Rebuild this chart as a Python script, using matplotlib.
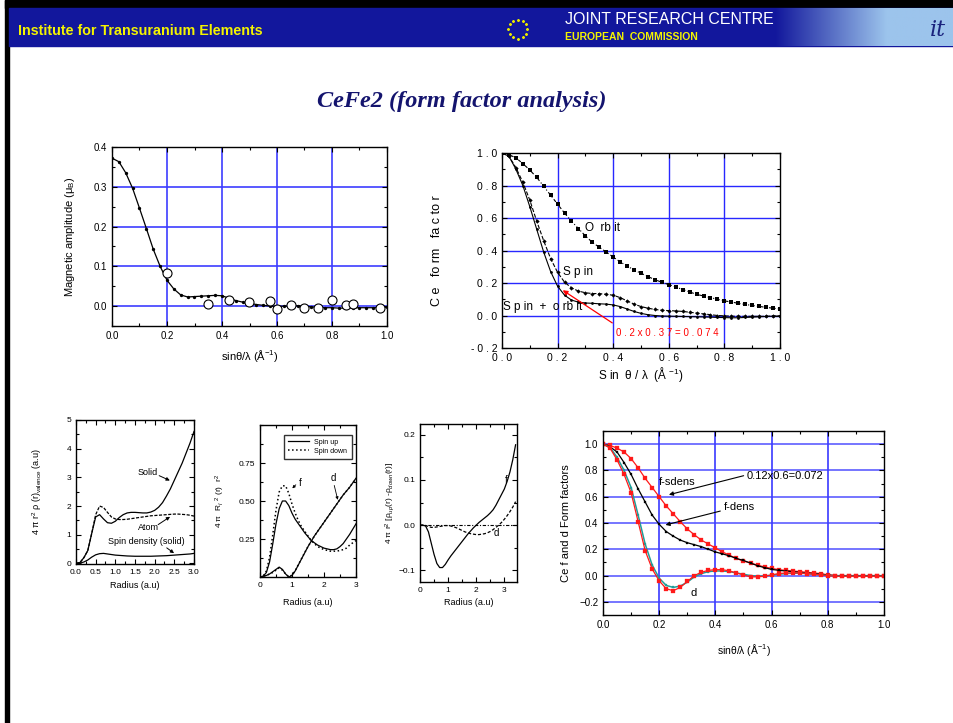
import numpy as np
import matplotlib.pyplot as plt
from matplotlib.patches import Rectangle
from matplotlib.ticker import MultipleLocator, FixedLocator

plt.rcParams['font.family'] = ['Liberation Sans', 'DejaVu Sans']
plt.rcParams['mathtext.fontset'] = 'custom'
plt.rcParams['mathtext.rm'] = 'Liberation Sans'
plt.rcParams['mathtext.it'] = 'Liberation Sans:italic'

# ---- data ----
q = [0.0, 0.025, 0.05, 0.075, 0.1, 0.125, 0.15, 0.175, 0.2, 0.225, 0.25, 0.275, 0.3, 0.325,
     0.35, 0.375, 0.4, 0.425, 0.45, 0.475, 0.5, 0.525, 0.55, 0.575, 0.6, 0.625, 0.65, 0.675,
     0.7, 0.725, 0.75, 0.775, 0.8, 0.825, 0.85, 0.875, 0.9, 0.925, 0.95, 0.975, 1.0]

# panel 1: magnetic amplitude
amp_calc = [0.372, 0.363, 0.335, 0.296, 0.246, 0.195, 0.143, 0.100, 0.065, 0.043, 0.028, 0.023,
            0.024, 0.025, 0.026, 0.027, 0.026, 0.020, 0.014, 0.010, 0.007, 0.004, 0.002, 0.000,
            -0.001, 0.000, 0.000, 0.001, 0.000, -0.002, -0.003, -0.004, -0.004, -0.005, -0.005,
            -0.004, -0.004, -0.004, -0.004, -0.003, -0.003]
q_meas = [0.2, 0.35, 0.425, 0.5, 0.575, 0.6, 0.65, 0.7, 0.75, 0.8, 0.85, 0.875, 0.975]
amp_meas = [0.084, 0.006, 0.016, 0.011, 0.013, -0.007, 0.004, -0.005, -0.006, 0.015, 0.003, 0.006, -0.006]

# panel 2: Ce form factor
orbit = [1.0, 0.99, 0.97, 0.935, 0.895, 0.85, 0.795, 0.74, 0.685, 0.63, 0.58, 0.535, 0.49, 0.45,
         0.42, 0.39, 0.36, 0.33, 0.305, 0.28, 0.26, 0.24, 0.22, 0.205, 0.19, 0.175, 0.16, 0.145,
         0.13, 0.12, 0.11, 0.10, 0.09, 0.083, 0.075, 0.068, 0.062, 0.056, 0.05, 0.045, 0.04]
spin = [1.0, 0.98, 0.91, 0.82, 0.71, 0.58, 0.46, 0.35, 0.265, 0.205, 0.17, 0.15, 0.14, 0.135,
        0.135, 0.13, 0.125, 0.11, 0.09, 0.07, 0.055, 0.045, 0.037, 0.032, 0.03, 0.028, 0.025,
        0.02, 0.015, 0.01, 0.005, 0.0, -0.002, -0.004, -0.005, -0.005, -0.005, -0.005, -0.005,
        -0.004, -0.003]
spin_orbit = [1.0, 0.98, 0.90, 0.80, 0.67, 0.53, 0.39, 0.27, 0.18, 0.125, 0.095, 0.082, 0.077,
              0.075, 0.072, 0.07, 0.065, 0.055, 0.04, 0.025, 0.013, 0.005, 0.0, -0.003, -0.004,
              -0.005, -0.006, -0.007, -0.008, -0.009, -0.01, -0.012, -0.013, -0.014, -0.014,
              -0.012, -0.01, -0.008, -0.006, -0.004, -0.003]

# panel 3: valence density
r3 = [0.0, 0.1, 0.2, 0.3, 0.4, 0.5, 0.6, 0.7, 0.8, 0.9, 1.0, 1.1, 1.2, 1.3, 1.4, 1.5, 1.6, 1.7,
      1.8, 1.9, 2.0, 2.1, 2.2, 2.3, 2.4, 2.5, 2.6, 2.7, 2.8, 2.9, 3.0]
dens_solid = [0.0, 0.03, 0.2, 0.45, 1.05, 1.62, 1.70, 1.55, 1.42, 1.40, 1.47, 1.6, 1.7, 1.76, 1.78,
              1.78, 1.77, 1.76, 1.76, 1.79, 1.85, 1.96, 2.12, 2.35, 2.6, 2.9, 3.2, 3.5, 3.85, 4.2, 4.6]
dens_atom = [0.0, 0.03, 0.2, 0.45, 1.05, 1.7, 2.0, 1.95, 1.78, 1.62, 1.55, 1.53, 1.53, 1.54, 1.56,
             1.58, 1.6, 1.62, 1.64, 1.66, 1.67, 1.68, 1.69, 1.7, 1.71, 1.72, 1.72, 1.71, 1.7, 1.68, 1.65]
dens_spin = [0.0, 0.01, 0.05, 0.12, 0.22, 0.3, 0.34, 0.35, 0.33, 0.31, 0.29, 0.28, 0.27, 0.26, 0.255,
             0.25, 0.25, 0.25, 0.25, 0.25, 0.255, 0.26, 0.265, 0.27, 0.28, 0.29, 0.3, 0.31, 0.32, 0.33, 0.35]

# panel 4: radial functions
f_up = [0, 0.005, 0.03, 0.1, 0.22, 0.35, 0.45, 0.5, 0.5, 0.47, 0.42, 0.38, 0.35, 0.32, 0.29, 0.265,
        0.24, 0.225, 0.21, 0.2, 0.19, 0.185, 0.18, 0.18, 0.185, 0.2, 0.22, 0.25, 0.28, 0.315, 0.35]
f_down = [0, 0.005, 0.04, 0.13, 0.28, 0.44, 0.56, 0.6, 0.6, 0.55, 0.48, 0.42, 0.37, 0.33, 0.3, 0.27,
          0.24, 0.22, 0.2, 0.19, 0.18, 0.175, 0.17, 0.17, 0.17, 0.175, 0.18, 0.19, 0.21, 0.225, 0.24]
d_up = [0, 0.005, 0.01, 0.02, 0.035, 0.05, 0.065, 0.05, 0.02, 0.0, 0.01, 0.04, 0.08, 0.12, 0.16, 0.2,
        0.235, 0.27, 0.3, 0.33, 0.36, 0.39, 0.42, 0.45, 0.48, 0.51, 0.54, 0.565, 0.59, 0.62, 0.65]
d_down = [0, 0.005, 0.01, 0.02, 0.03, 0.045, 0.06, 0.045, 0.02, 0.002, 0.012, 0.042, 0.082, 0.122,
          0.162, 0.2, 0.235, 0.27, 0.3, 0.33, 0.36, 0.39, 0.42, 0.45, 0.48, 0.51, 0.54, 0.565, 0.59,
          0.62, 0.645]

# panel 5: spin density difference
r5 = [0.0, 0.1, 0.2, 0.3, 0.4, 0.5, 0.6, 0.7, 0.8, 0.9, 1.0, 1.1, 1.2, 1.3, 1.4, 1.5, 1.6, 1.7,
      1.8, 1.9, 2.0, 2.1, 2.2, 2.3, 2.4, 2.5, 2.6, 2.7, 2.8, 2.9, 3.0, 3.1, 3.2, 3.3, 3.4]
f_diff = [0.0, 0.0, -0.002, -0.015, -0.04, -0.065, -0.085, -0.094, -0.094, -0.087, -0.077, -0.068,
          -0.06, -0.052, -0.044, -0.036, -0.028, -0.02, -0.013, -0.006, 0.0, 0.006, 0.011, 0.016,
          0.021, 0.027, 0.034, 0.044, 0.056, 0.068, 0.08, 0.097, 0.118, 0.145, 0.178]
d_diff = [0.0, 0.0, -0.001, -0.003, -0.005, -0.005, -0.004, -0.003, -0.002, -0.001, -0.001, -0.002,
          -0.004, -0.006, -0.009, -0.012, -0.015, -0.017, -0.019, -0.02, -0.021, -0.021, -0.02,
          -0.019, -0.017, -0.014, -0.01, -0.005, 0.0, 0.006, 0.013, 0.021, 0.03, 0.04, 0.052]

# panel 6: Ce f and d form factors
f_sdens = [1.0, 0.99, 0.97, 0.94, 0.89, 0.82, 0.74, 0.67, 0.60, 0.53, 0.47, 0.41, 0.355, 0.31, 0.27,
           0.24, 0.21, 0.18, 0.155, 0.13, 0.11, 0.095, 0.08, 0.065, 0.055, 0.045, 0.04, 0.035, 0.03,
           0.025, 0.02, 0.015, 0.005, 0.0, -0.005, -0.005, -0.005, -0.005, -0.005, -0.005, -0.005]
f_dens = [1.0, 0.98, 0.94, 0.86, 0.77, 0.66, 0.56, 0.46, 0.39, 0.335, 0.30, 0.27, 0.25, 0.235, 0.22,
          0.20, 0.18, 0.165, 0.15, 0.13, 0.115, 0.095, 0.075, 0.06, 0.047, 0.04, 0.035, 0.03, 0.025,
          0.02, 0.015, 0.01, 0.005, 0.0, 0.0, 0.0, 0.0, 0.0, 0.0, 0.0, 0.0]
d_red = [1.0, 0.97, 0.88, 0.77, 0.63, 0.41, 0.19, 0.05, -0.04, -0.10, -0.115, -0.09, -0.045, 0.0,
         0.025, 0.04, 0.045, 0.045, 0.035, 0.02, 0.005, -0.01, -0.01, -0.005, 0.005, 0.015, 0.02,
         0.02, 0.02, 0.015, 0.01, 0.005, 0.0, -0.005, -0.005, -0.005, -0.005, -0.005, -0.005,
         -0.005, -0.005]
d_teal = [1.0, 0.975, 0.90, 0.80, 0.67, 0.46, 0.24, 0.08, -0.02, -0.075, -0.09, -0.08, -0.05, -0.01,
          0.015, 0.03, 0.035, 0.035, 0.03, 0.02, 0.01, 0.0, -0.005, -0.003, 0.003, 0.01, 0.015,
          0.018, 0.018, 0.015, 0.01, 0.005, 0.0, -0.003, -0.004, -0.004, -0.004, -0.004, -0.004,
          -0.004, -0.004]

W, H = 954, 723
fig = plt.figure(figsize=(W / 100, H / 100), dpi=100)

# ---- slide frame / header (pixel coords) ----
bg = fig.add_axes([0, 0, 1, 1], zorder=-5)
bg.set_xlim(0, W)
bg.set_ylim(H, 0)
bg.axis('off')
bg.add_patch(Rectangle((5, 0), W - 5, 8, color='black'))
bg.add_patch(Rectangle((5, 0), 4, H, color='black'))
bg.add_patch(Rectangle((9, 8), W - 9, 38, color='#12179c'))
sky = np.linspace(0, 1, 200)
grad = np.zeros((2, 200, 3))
c0 = np.array([0x12, 0x17, 0x9c]) / 255
c1 = np.array([0x9c, 0xc4, 0xec]) / 255
for k in range(3):
    grad[:, :, k] = c0[k] + (c1[k] - c0[k]) * np.clip(sky * 1.6, 0, 1)
bg.imshow(grad, extent=(775, W, 46, 8), aspect='auto', zorder=1)
bg.text(18, 31, 'Institute for Transuranium Elements', color='#f4f400', fontsize=10.3,
        fontweight='bold', va='center', ha='left')
ang = np.linspace(0, 2 * np.pi, 13)[:-1]
bg.scatter(518 + 9.5 * np.cos(ang), 29 + 9.5 * np.sin(ang), s=1.5, color='#e8e800', marker='*', zorder=3)
bg.text(565, 19, 'JOINT RESEARCH CENTRE', color='white', fontsize=11.5, va='center', ha='left', zorder=3)
bg.text(565, 37, 'EUROPEAN  COMMISSION', color='#f4f400', fontsize=7.5, fontweight='bold',
        va='center', ha='left', zorder=3)
bg.text(938, 30, 'it', color='#1a237e', fontsize=16, family='DejaVu Serif', style='italic',
        va='center', ha='center', zorder=3)
bg.text(462, 101, 'CeFe2 (form factor analysis)', color='#14146e', fontsize=17.5,
        family='Liberation Serif', style='italic', fontweight='bold', ha='center', va='center')


def px_axes(left, top, right, bottom):
    return fig.add_axes([left / W, 1 - bottom / H, (right - left) / W, (bottom - top) / H])


def style(ax, fs=7):
    ax.tick_params(which='both', direction='in', top=True, right=True, labelsize=fs, width=0.8)
    ax.tick_params(which='major', length=3.5)
    ax.tick_params(which='minor', length=2)
    for s in ax.spines.values():
        s.set_linewidth(1.0)


# ---- panel 1 ----
ax1 = px_axes(112, 147, 387, 326)
for g in [0.2, 0.4, 0.6, 0.8]:
    ax1.axvline(g, color='#3c3cff', lw=1.4, alpha=0.85, zorder=0)
for g in [0.0, 0.1, 0.2, 0.3]:
    ax1.axhline(g, color='#3c3cff', lw=1.4, alpha=0.85, zorder=0)
ax1.plot(q, amp_calc, '-', color='black', lw=0.9, marker='o', ms=2.4, mew=0)
ax1.plot(q_meas, amp_meas, 'o', mfc='white', mec='black', ms=6.5, mew=0.8)
ax1.set_xlim(0, 1.0)
ax1.set_ylim(-0.05, 0.4)
ax1.xaxis.set_major_locator(MultipleLocator(0.2))
ax1.xaxis.set_minor_locator(MultipleLocator(0.1))
ax1.yaxis.set_major_locator(FixedLocator([0.0, 0.1, 0.2, 0.3, 0.4]))
ax1.yaxis.set_minor_locator(MultipleLocator(0.05))
style(ax1)
ax1.set_xlabel('sinθ/λ (Å$^{-1}$)', fontsize=8)
ax1.set_ylabel('Magnetic amplitude (μ$_{\\rm B}$)', fontsize=8)
ax1.xaxis.set_label_coords(0.5, -0.123)
ax1.yaxis.set_label_coords(-0.127, 0.5)

# ---- panel 2 ----
ax2 = px_axes(502, 153, 780, 348)
for g in [0.2, 0.4, 0.6, 0.8]:
    ax2.axvline(g, color='#2828ff', lw=1.0, zorder=0)
for g in [0.0, 0.2, 0.4, 0.6, 0.8]:
    ax2.axhline(g, color='#2828ff', lw=1.0, zorder=0)
ax2.plot(q, orbit, linestyle=(0, (3, 2, 1, 2)), color='black', lw=0.8, marker='s', ms=2.8, mew=0)
ax2.plot(q, spin, linestyle='--', color='black', lw=0.8, marker='D', ms=2.2, mew=0)
ax2.plot(q, spin_orbit, '-', color='black', lw=0.8, marker='o', ms=2.0, mew=0)
ax2.set_xlim(0, 1.0)
ax2.set_ylim(-0.2, 1.0)
ax2.xaxis.set_major_locator(FixedLocator([0.0, 0.2, 0.4, 0.6, 0.8, 1.0]))
ax2.xaxis.set_minor_locator(MultipleLocator(0.1))
ax2.yaxis.set_major_locator(FixedLocator([-0.2, 0.0, 0.2, 0.4, 0.6, 0.8, 1.0]))
ax2.yaxis.set_minor_locator(MultipleLocator(0.1))
ax2.set_xticklabels(['0 . 0', '0 . 2', '0 . 4', '0 . 6', '0 . 8', '1 . 0'])
ax2.set_yticklabels(['- 0 . 2', '0 . 0', '0 . 2', '0 . 4', '0 . 6', '0 . 8', '1 . 0'])
style(ax2, fs=7.5)
ax2.set_xlabel('S in  θ / λ  (Å $^{-1}$)', fontsize=8.5)
ax2.set_ylabel('C e   fo rm   fa c to r', fontsize=9)
ax2.xaxis.set_label_coords(0.5, -0.087)
ax2.yaxis.set_label_coords(-0.212, 0.5)
ax2.text(0.3, 0.54, 'O  rb it', fontsize=8.5, va='center')
ax2.text(0.22, 0.27, 'S p in', fontsize=8.5, va='center')
ax2.text(0.005, 0.055, 'S p in  +  o rb it', fontsize=8.5, va='center')
ax2.annotate('', xy=(0.21, 0.165), xytext=(0.405, -0.055),
             arrowprops=dict(arrowstyle='-|>', color='red', lw=0.9, mutation_scale=7))
ax2.text(0.41, -0.11, '0 . 2 x 0 . 3 7 = 0 . 0 7 4', color='red', fontsize=7, va='center')

# ---- panel 3 ----
ax3 = px_axes(76, 420, 194, 564)
ax3.plot(r3, dens_solid, '-', color='black', lw=0.9)
ax3.plot(r3, dens_atom, '--', color='black', lw=0.9, dashes=(2.5, 1.2))
ax3.plot(r3, dens_spin, '-', color='black', lw=0.9)
ax3.set_xlim(0, 3.0)
ax3.set_ylim(-0.02, 5)
ax3.xaxis.set_major_locator(MultipleLocator(0.5))
ax3.xaxis.set_minor_locator(MultipleLocator(0.25))
ax3.yaxis.set_major_locator(MultipleLocator(1))
ax3.yaxis.set_minor_locator(MultipleLocator(0.5))
ax3.xaxis.set_major_formatter(plt.FormatStrFormatter('%.1f'))
style(ax3, fs=6)
ax3.set_xlabel('Radius (a.u)', fontsize=6.5)
ax3.set_ylabel('4 π r$^2$ ρ (r)$_{\\rm valence}$ (a.u)', fontsize=6.5)
ax3.xaxis.set_label_coords(0.5, -0.12)
ax3.yaxis.set_label_coords(-0.27, 0.5)
ax3.text(1.57, 3.17, 'Solid', fontsize=6.5, va='center')
ax3.annotate('', xy=(2.45, 2.85), xytext=(2.05, 3.1),
             arrowprops=dict(arrowstyle='-|>', color='black', lw=0.7, mutation_scale=5))
ax3.text(1.57, 1.24, 'Atom', fontsize=6.5, va='center')
ax3.annotate('', xy=(2.45, 1.68), xytext=(2.03, 1.3),
             arrowprops=dict(arrowstyle='-|>', color='black', lw=0.7, mutation_scale=5))
ax3.text(1.8, 0.77, 'Spin density (solid)', fontsize=6.5, va='center', ha='center')
ax3.annotate('', xy=(2.55, 0.3), xytext=(2.25, 0.6),
             arrowprops=dict(arrowstyle='-|>', color='black', lw=0.7, mutation_scale=5))

# ---- panel 4 ----
ax4 = px_axes(260, 425, 356, 577)
ax4.plot(r3, f_up, '-', color='black', lw=0.9, label='Spin up')
ax4.plot(r3, f_down, ':', color='black', lw=1.1, label='Spin down')
ax4.plot(r3, d_up, '-', color='black', lw=0.9)
ax4.plot(r3, d_down, ':', color='black', lw=1.1)
ax4.set_xlim(0, 3.0)
ax4.set_ylim(0, 1.0)
ax4.xaxis.set_major_locator(MultipleLocator(1))
ax4.xaxis.set_minor_locator(MultipleLocator(0.5))
ax4.yaxis.set_major_locator(FixedLocator([0.25, 0.5, 0.75]))
ax4.yaxis.set_minor_locator(MultipleLocator(0.125))
ax4.yaxis.set_major_formatter(plt.FormatStrFormatter('%.2f'))
style(ax4, fs=6)
ax4.legend(loc='upper right', fontsize=5, frameon=True, fancybox=False, edgecolor='black',
           handlelength=3, borderpad=0.6, labelspacing=0.3, bbox_to_anchor=(0.99, 0.96))
ax4.set_xlabel('Radius (a.u)', fontsize=6.5)
ax4.set_ylabel('4 π  R$_l$ $^2$ (r)  r$^2$', fontsize=6)
ax4.xaxis.set_label_coords(0.5, -0.14)
ax4.yaxis.set_label_coords(-0.34, 0.5)
ax4.text(1.2, 0.62, 'f', fontsize=7, va='center')
ax4.annotate('', xy=(0.95, 0.57), xytext=(1.18, 0.62),
             arrowprops=dict(arrowstyle='-|>', color='black', lw=0.6, mutation_scale=4))
ax4.text(2.2, 0.65, 'd', fontsize=7, va='center')
ax4.annotate('', xy=(2.45, 0.49), xytext=(2.3, 0.62),
             arrowprops=dict(arrowstyle='-|>', color='black', lw=0.6, mutation_scale=4))

# ---- panel 5 ----
ax5 = px_axes(420, 424, 517, 582)
ax5.axhline(0, color='black', lw=0.8, linestyle=(0, (3, 1.5, 1, 1.5)))
ax5.plot(r5, f_diff, '-', color='black', lw=0.9)
ax5.plot(r5, d_diff, '--', color='black', lw=0.9, dashes=(2.5, 1.5))
ax5.set_xlim(0, 3.45)
ax5.set_ylim(-0.126, 0.224)
ax5.xaxis.set_major_locator(MultipleLocator(1))
ax5.xaxis.set_minor_locator(MultipleLocator(0.5))
ax5.yaxis.set_major_locator(FixedLocator([-0.1, 0.0, 0.1, 0.2]))
ax5.yaxis.set_minor_locator(MultipleLocator(0.05))
style(ax5, fs=6)
ax5.set_xlabel('Radius (a.u)', fontsize=6.5)
ax5.set_ylabel('4 π r$^2$ [ρ$_{up}$(r) -ρ$_{down}$(r)]', fontsize=6)
ax5.xaxis.set_label_coords(0.5, -0.1)
ax5.yaxis.set_label_coords(-0.24, 0.5)
ax5.text(3.0, 0.1, 'f', fontsize=7, va='center')
ax5.text(2.62, -0.018, 'd', fontsize=7, va='center')

# ---- panel 6 ----
ax6 = px_axes(603, 431, 884, 615)
for g in [0.2, 0.4, 0.6, 0.8]:
    ax6.axvline(g, color='#2828ff', lw=1.1, zorder=0)
for g in [-0.2, 0.0, 0.2, 0.4, 0.6, 0.8, 1.0]:
    ax6.axhline(g, color='#3c3cff', lw=1.1, alpha=0.9, zorder=0)
ax6.plot(q, f_sdens, '-', color='#ff1a1a', lw=0.9, marker='s', ms=2.2, mew=0.2)
ax6.plot(q, f_dens, '-', color='black', lw=0.9, marker='s', ms=2.0, mew=0.2)
ax6.plot(q, d_teal, '-', color='#1f9e9a', lw=1.1, marker='s', ms=2.0, mew=0.2)
ax6.plot(q, d_red, '-', color='#ff1a1a', lw=0.9, marker='s', ms=2.2, mew=0.2)
ax6.set_xlim(0, 1.0)
ax6.set_ylim(-0.3, 1.1)
ax6.xaxis.set_major_locator(MultipleLocator(0.2))
ax6.xaxis.set_minor_locator(MultipleLocator(0.1))
ax6.yaxis.set_major_locator(FixedLocator([-0.2, 0.0, 0.2, 0.4, 0.6, 0.8, 1.0]))
ax6.yaxis.set_minor_locator(MultipleLocator(0.1))
style(ax6, fs=7)
ax6.set_xlabel('sinθ/λ (Å$^{-1}$)', fontsize=7.5)
ax6.set_ylabel('Ce f and d Form factors', fontsize=8)
ax6.xaxis.set_label_coords(0.5, -0.145)
ax6.yaxis.set_label_coords(-0.115, 0.5)
ax6.text(0.2, 0.71, 'f-sdens', fontsize=8, va='center')
ax6.text(0.51, 0.76, '0.12x0.6=0.072', fontsize=8, va='center')
ax6.annotate('', xy=(0.225, 0.61), xytext=(0.51, 0.765),
             arrowprops=dict(arrowstyle='-|>', color='black', lw=0.8, mutation_scale=6))
ax6.text(0.43, 0.52, 'f-dens', fontsize=8, va='center')
ax6.annotate('', xy=(0.213, 0.38), xytext=(0.427, 0.496),
             arrowprops=dict(arrowstyle='-|>', color='black', lw=0.8, mutation_scale=6))
ax6.text(0.31, -0.13, 'd', fontsize=8, va='center')

fig.savefig('out.png', dpi=100)
